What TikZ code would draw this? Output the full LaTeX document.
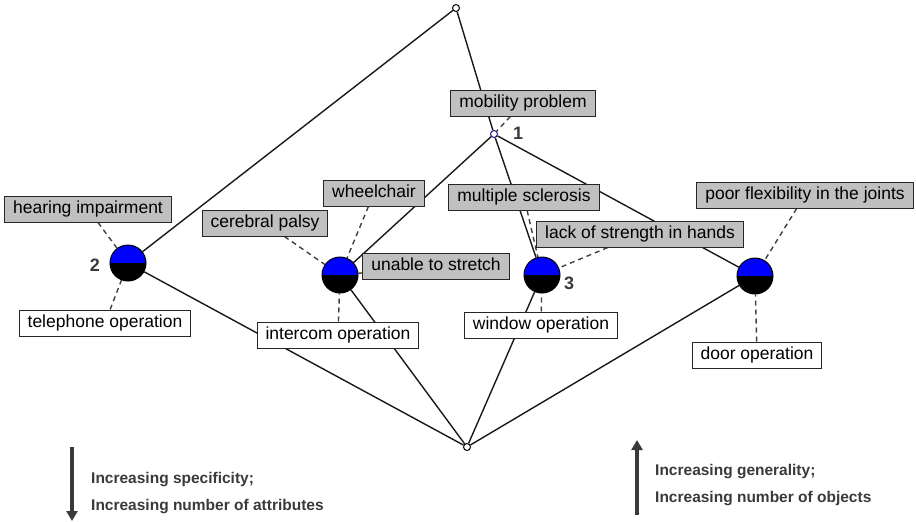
\documentclass[tikz,border=0pt]{standalone}
\usepackage{fontspec}
\setmainfont{Liberation Sans}
\usetikzlibrary{arrows.meta,backgrounds}
\definecolor{boxgray}{HTML}{C0C0C0}
\definecolor{inkgray}{HTML}{3A3A3A}
\definecolor{dotnavy}{HTML}{1A1A80}
\begin{document}
\begin{tikzpicture}[x=1pt,y=-1pt,>=Triangle,
  attr/.style={draw=black!85,line width=1pt,fill=boxgray,inner xsep=8.5pt,inner ysep=5pt,
    text height=12.5pt,text depth=3.5pt,font=\fontsize{17.5}{20}\selectfont},
  obj/.style={attr,fill=white},
  concept/.style={circle,draw=black,line width=1pt,minimum size=36pt,inner sep=0pt,
    path picture={\fill[blue] (path picture bounding box.west) rectangle (path picture bounding box.north east);
      \fill[black] (path picture bounding box.west) rectangle (path picture bounding box.south east);}},
  dot/.style={circle,draw,fill=white,line width=1pt,minimum size=7pt,inner sep=0pt},
  edge/.style={line width=1.4pt,draw=black!90},
  link/.style={line width=1.4pt,dash pattern=on 5pt off 4pt,draw=black!75},
  num/.style={font=\bfseries\fontsize{18}{20}\selectfont,text=inkgray},
  note/.style={font=\bfseries\fontsize{15.5}{18}\selectfont,text=inkgray,anchor=west,inner sep=0pt},
  trend/.style={line width=3.5pt,draw=inkgray,-{Triangle[length=10pt,width=11pt]}}]
  \useasboundingbox (0,0) rectangle (916,522);
  % lattice points
  \node[dot] (top) at (456,8) {};
  \node[dot,draw=dotnavy] (n1) at (494,134) {};
  \node[dot] (bot) at (467,447) {};
  \node[concept] (c2) at (128,263) {};
  \node[concept] (ci) at (340,275) {};
  \node[concept] (c3) at (542,275) {};
  \node[concept] (cd) at (755,276) {};
  \node[num] (l1) at (518,133) {1};
  \node[num] (l2) at (95,265) {2};
  \node[num] (l3) at (569,283) {3};
  % attributes and objects
  \node[attr] (hear) at (88,209) {hearing impairment};
  \node[obj] (tel) at (105,323) {telephone operation};
  \node[attr] (palsy) at (265,223) {cerebral palsy};
  \node[attr] (wheel) at (374,193) {wheelchair};
  \node[attr] (stretch) at (436,266) {unable to stretch};
  \node[obj] (icom) at (338,335) {intercom operation};
  \node[attr] (mob) at (523,103) {mobility problem};
  \node[attr] (ms) at (524,197) {multiple sclerosis};
  \node[attr] (hands) at (640,234) {lack of strength in hands};
  \node[obj] (win) at (541,325) {window operation};
  \node[attr] (flex) at (805,195) {poor flexibility in the joints};
  \node[obj] (door) at (757,355) {door operation};
  \begin{scope}[on background layer]
    \draw[edge] (top) -- (c2); \draw[edge] (top) -- (n1);
    \draw[edge] (n1) -- (ci); \draw[edge] (n1) -- (c3); \draw[edge] (n1) -- (cd);
    \draw[edge] (c2) -- (bot); \draw[edge] (ci) -- (bot);
    \draw[edge] (c3) -- (bot); \draw[edge] (cd) -- (bot);
    \draw[link] (hear) -- (c2); \draw[link] (tel) -- (c2);
    \draw[link] (palsy) -- (ci); \draw[link] (wheel) -- (ci);
    \draw[link] (stretch) -- (ci); \draw[link] (icom) -- (ci);
    \draw[link] (mob) -- (n1);
    \draw[link] (ms) -- (c3); \draw[link] (hands) -- (c3); \draw[link] (win) -- (c3);
    \draw[link] (flex) -- (cd); \draw[link] (door) -- (cd);
  \end{scope}
  % reading directions
  \coordinate (dtop) at (72,447); \coordinate (dend) at (72,521);
  \draw[trend] (dtop) -- (dend);
  \node[note] (spec) at (91,480) {Increasing specificity;};
  \node[note] (attrs) at (91,507) {Increasing number of attributes};
  \coordinate (ubase) at (637,515); \coordinate (utip) at (637,440);
  \draw[trend] (ubase) -- (utip);
  \node[note] (gen) at (655,472) {Increasing generality;};
  \node[note] (objs) at (655,499) {Increasing number of objects};
\end{tikzpicture}
\end{document}
